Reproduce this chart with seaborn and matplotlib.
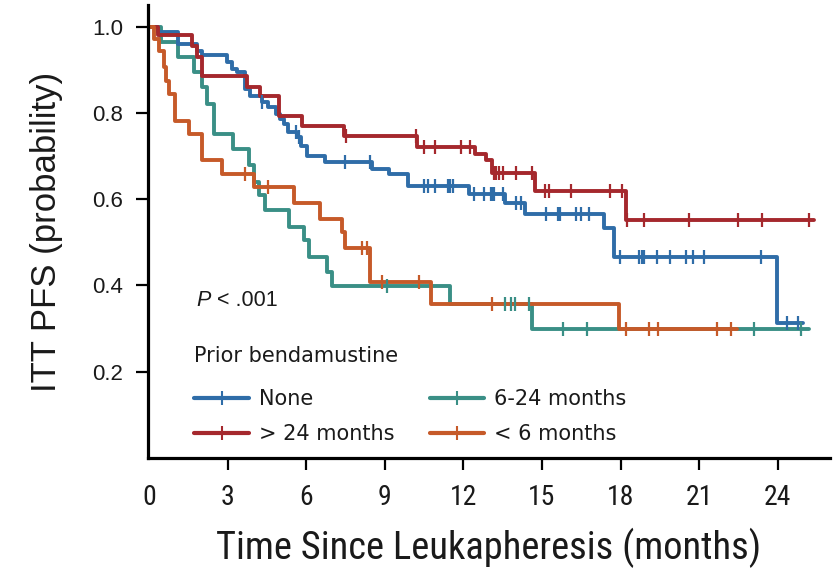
import numpy as np
import pandas as pd
import matplotlib
matplotlib.use("Agg")
import matplotlib.pyplot as plt
from matplotlib.lines import Line2D
from matplotlib import font_manager as fm
import seaborn as sns

# ---------------- data ----------------
groups = ["None", "> 24 months", "6-24 months", "< 6 months"]

none_t = [0, 0.35, 1.1, 1.83, 2.02, 2.98, 3.15, 3.35, 3.67, 3.85, 4.3, 4.55, 4.85, 5.0,
          5.15, 5.3, 5.65, 5.8, 6.03, 6.72, 8.51, 9.16, 9.9, 12.2, 13.6, 14.35, 17.37,
          17.74, 23.97]
none_s = [1.0, 0.987, 0.96, 0.944, 0.933, 0.918, 0.902, 0.895, 0.855, 0.839, 0.825, 0.814,
          0.798, 0.786, 0.774, 0.756, 0.744, 0.724, 0.701, 0.686, 0.670, 0.659, 0.631,
          0.613, 0.592, 0.566, 0.534, 0.467, 0.314]
none_end = 24.95
none_cens = [4.3, 5.6, 5.7, 7.48, 8.43, 10.5, 10.65, 10.9, 11.4, 11.5, 11.6, 12.4, 12.8,
             13.05, 13.1, 13.15, 13.5, 14.0, 14.2, 15.15, 15.6, 15.7, 16.3, 16.5, 16.8,
             17.98, 18.7, 18.8, 18.9, 19.4, 19.9, 20.5, 20.75, 21.2, 23.36, 24.35, 24.77]

gt24_t = [0, 0.34, 1.64, 1.83, 2.02, 3.74, 4.24, 4.96, 5.84, 7.44, 10.23, 12.44, 12.85,
          13.1, 14.73, 18.2]
gt24_s = [1.0, 0.980, 0.956, 0.93, 0.886, 0.86, 0.84, 0.793, 0.77, 0.747, 0.72, 0.705,
          0.69, 0.661, 0.618, 0.551]
gt24_end = 25.4
gt24_cens = [7.5, 10.2, 10.5, 10.9, 11.9, 12.25, 13.15, 13.25, 13.35, 13.5, 14.0, 14.6,
             15.1, 15.25, 16.1, 17.6, 18.05, 18.25, 18.88, 20.6, 22.5, 23.4, 25.2]

mid_t = [0, 0.45, 1.1, 1.7, 2.02, 2.2, 2.47, 3.2, 3.8, 4.0, 4.2, 4.43, 5.34, 5.9, 6.1,
         6.8, 6.98, 11.5, 14.62]
mid_s = [1.0, 0.964, 0.93, 0.895, 0.86, 0.821, 0.751, 0.717, 0.678, 0.64, 0.61, 0.574,
         0.536, 0.505, 0.467, 0.432, 0.398, 0.356, 0.30]
mid_end = 25.2
mid_cens = [9.08, 13.6, 13.8, 13.95, 14.5, 15.8, 16.7, 23.08, 24.9]

lt6_t = [0, 0.19, 0.38, 0.57, 0.65, 0.76, 1.0, 1.51, 2.02, 2.79, 4.0, 5.52, 6.53, 7.37,
         7.48, 8.44, 10.76, 17.93]
lt6_s = [1.0, 0.971, 0.944, 0.906, 0.875, 0.844, 0.782, 0.751, 0.69, 0.659, 0.629, 0.592,
         0.555, 0.525, 0.486, 0.409, 0.356, 0.298]
lt6_end = 22.44
lt6_cens = [3.67, 4.54, 8.13, 8.32, 8.9, 10.3, 13.1, 18.2, 19.08, 19.43, 21.7, 22.2]

x_ticks = [0, 3, 6, 9, 12, 15, 18, 21, 24]
y_ticks = [0.2, 0.4, 0.6, 0.8, 1.0]

colors = {"None": "#2F6DA8", "> 24 months": "#A5282D",
          "6-24 months": "#3A8F86", "< 6 months": "#C65A29"}

series = {
    "None": (none_t, none_s, none_end, none_cens),
    "> 24 months": (gt24_t, gt24_s, gt24_end, gt24_cens),
    "6-24 months": (mid_t, mid_s, mid_end, mid_cens),
    "< 6 months": (lt6_t, lt6_s, lt6_end, lt6_cens),
}

# ---------------- tables ----------------
rows, crows = [], []
for g, (t, s, end, cens) in series.items():
    tt = list(t) + [end]
    ss = list(s) + [s[-1]]
    for a, b in zip(tt, ss):
        rows.append((g, a, b))
    ta = np.asarray(t)
    for c in cens:
        idx = np.searchsorted(ta, c, side="right") - 1
        crows.append((g, c, s[idx]))
curves = pd.DataFrame(rows, columns=["group", "time", "surv"])
censors = pd.DataFrame(crows, columns=["group", "time", "surv"])

# ---------------- fonts ----------------
FILES = [f.fname for f in fm.fontManager.ttflist]


def find_font(keys_list, exclude=("bold", "italic", "oblique")):
    for keys in keys_list:
        for fn in FILES:
            low = fn.lower().replace("-", "").replace("_", "").replace(" ", "")
            base = low.rsplit("/", 1)[-1]
            if all(k in base for k in keys) and not any(e in base for e in exclude):
                return fm.FontProperties(fname=fn)
    return None


narrow_fp = find_font([["liberationsansnarrow", "regular"], ["liberationsansnarrow"],
                       ["robotocondensed", "regular"], ["robotocondensed"],
                       ["dejavusanscondensed"], ["opensanscondensed"]])
reg_fp = find_font([["liberationsans", "regular"]], exclude=("bold", "italic", "narrow"))
ital_fp = find_font([["liberationsans", "italic"]], exclude=("bold", "narrow"))
if narrow_fp is None:
    narrow_fp = fm.FontProperties(family="DejaVu Sans", stretch="condensed")
if reg_fp is None:
    reg_fp = fm.FontProperties(family="DejaVu Sans")
if ital_fp is None:
    ital_fp = fm.FontProperties(family="DejaVu Sans", style="italic")


def fp(base, size):
    p = base.copy()
    p.set_size(size)
    return p


sns.set_theme(style="ticks")
plt.rcParams["font.family"] = ["DejaVu Sans"]

fig = plt.figure(figsize=(8.39, 5.71), dpi=100)
ax = fig.add_axes([148 / 839, 113 / 571, (830 - 148) / 839, (566 - 113) / 571])

draw_order = ["6-24 months", "None", "> 24 months", "< 6 months"]
for g in draw_order:
    sub = curves[curves.group == g]
    sns.lineplot(data=sub, x="time", y="surv", color=colors[g], estimator=None,
                 drawstyle="steps-post", lw=2.8, ax=ax, legend=False, sort=False)
    csub = censors[censors.group == g]
    sns.scatterplot(data=csub, x="time", y="surv", color=colors[g], marker="|",
                    s=95, linewidth=1.6, ax=ax, legend=False, zorder=3)

ax.set_xlim(-0.05, 26)
ax.set_ylim(0, 1.05)
ax.set_xticks(x_ticks)
ax.set_yticks(y_ticks)
ax.set_xticklabels([str(v) for v in x_ticks], fontproperties=fp(narrow_fp, 20),
                   color="#1a1a1a")
ax.set_yticklabels([f"{v:.1f}" for v in y_ticks], fontproperties=fp(reg_fp, 16),
                   color="#1a1a1a")
ax.tick_params(axis="both", direction="out", length=8.5, width=1.6, color="black")
ax.tick_params(axis="x", pad=10)
ax.tick_params(axis="y", pad=9.5)
ax.xaxis.get_major_ticks()[0].tick1line.set_visible(False)

for side in ["top", "right"]:
    ax.spines[side].set_visible(False)
for side in ["left", "bottom"]:
    ax.spines[side].set_linewidth(2.3)
    ax.spines[side].set_color("black")

ax.set_xlabel("Time Since Leukapheresis (months)", fontproperties=fp(narrow_fp, 27.7),
              color="#1a1a1a", labelpad=12)
ax.set_ylabel("ITT PFS (probability)", fontproperties=fp(reg_fp, 25), color="#1a1a1a",
              labelpad=21)

ptxt = ax.text(1.8, 0.365, "P", fontproperties=fp(ital_fp, 15.5),
               color="#1a1a1a", va="center", ha="left")
ax.annotate(" < .001", xy=(1, 0.5), xycoords=ptxt, va="center", ha="left",
            fontproperties=fp(reg_fp, 15.5), color="#1a1a1a")

handles = [Line2D([], [], color=colors[g], lw=3, marker="|", markersize=10, mew=1.5)
           for g in groups]
leg = ax.legend(handles, groups, title="Prior bendamustine", ncol=2, frameon=False,
                loc="upper left", bbox_to_anchor=(184 / 839, 1 - 336 / 571),
                bbox_transform=fig.transFigure, borderpad=0, handlelength=2.6,
                handletextpad=0.5, columnspacing=1.7, labelspacing=0.72,
                alignment="left", prop={"family": "DejaVu Sans", "size": 15},
                title_fontproperties={"family": "DejaVu Sans", "size": 15})
leg._legend_box.sep = 16.5
for t in leg.get_texts():
    t.set_color("#1a1a1a")
leg.get_title().set_color("#1a1a1a")

fig.savefig("out.png", dpi=100)
